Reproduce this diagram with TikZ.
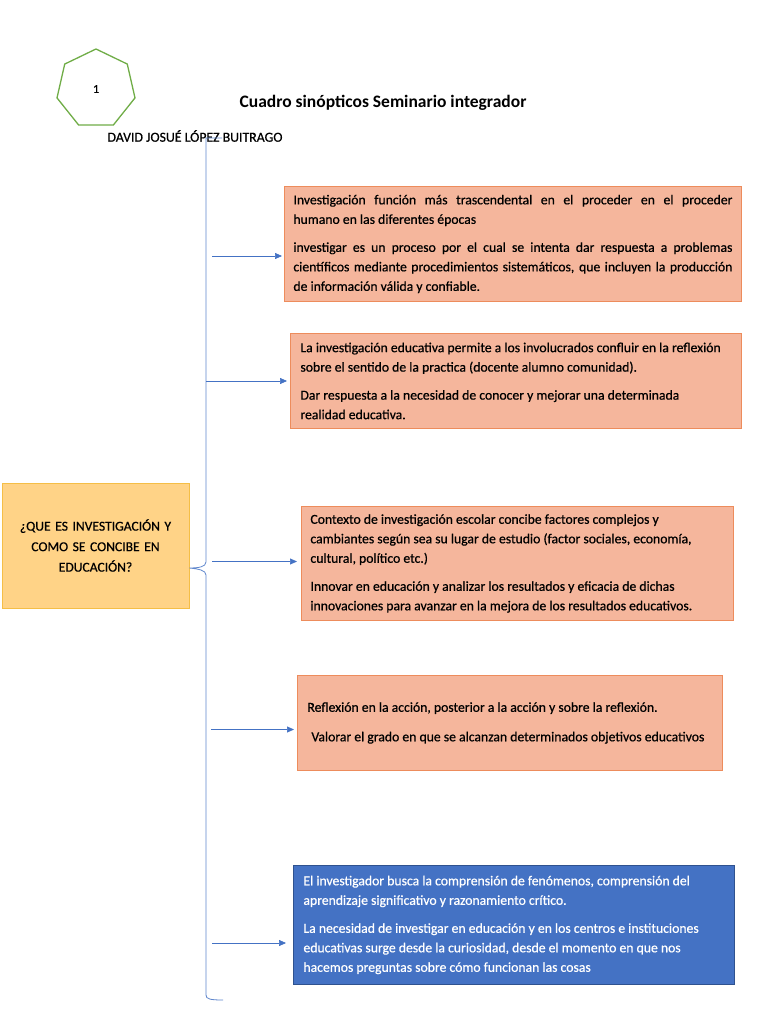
\documentclass[tikz,border=0pt]{standalone}
\usepackage{fontspec}
\setmainfont{Carlito}
\newfontfamily\gruesa{Carlito}[FakeBold=0.6]
\usetikzlibrary{shapes.geometric,arrows.meta}
\definecolor{salmon}{RGB}{245,182,156}
\definecolor{salmonline}{RGB}{237,140,92}
\definecolor{goldfill}{RGB}{255,211,135}
\definecolor{goldline}{RGB}{245,190,70}
\definecolor{officeblue}{RGB}{68,114,196}
\definecolor{blueline}{RGB}{47,82,143}
\definecolor{leaf}{RGB}{112,173,71}
\tikzset{
  ramabox/.style={draw=salmonline, fill=salmon, line width=0.9pt, anchor=north west,
    inner xsep=9pt, inner ysep=4pt, align=flush left, font=\gruesa\fontsize{13.7}{19.5}\selectfont},
  azulbox/.style={ramabox, draw=blueline, fill=officeblue, text=white},
  flecha/.style={officeblue, line width=0.7pt, shorten >=3pt, -{Triangle[length=7pt,width=6pt]}},
  llave/.style={officeblue!85, line width=0.8pt},
}
\begin{document}
\begin{tikzpicture}[x=1pt, y=-1pt]
  \fill[white] (0,0) rectangle (768,1024);
  \useasboundingbox (0,0) rectangle (768,1024);

  % encabezado
  \node[regular polygon, regular polygon sides=7, draw=leaf, line width=1.3pt,
        minimum size=80pt, inner sep=0pt, font=\gruesa\fontsize{12}{14}\selectfont] (num) at (96,89) {1};
  \node[font=\bfseries\fontsize{17.5}{20}\selectfont] (titulo) at (383,103) {Cuadro sinópticos Seminario integrador};
  \node[font=\gruesa\fontsize{13.8}{16}\selectfont] (autor) at (195,136) {DAVID JOSUÉ LÓPEZ BUITRAGO};

  % pregunta central
  \node[draw=goldline, fill=goldfill, line width=0.9pt, minimum width=187pt, minimum height=125pt,
        text width=170pt, align=center, font=\gruesa\fontsize{13.6}{20.5}\selectfont] (q) at (95.5,545.5)
        {¿QUE ES INVESTIGACIÓN Y\\COMO SE CONCIBE EN\\EDUCACIÓN?};

  % ramas
  \node[ramabox, align=justify, minimum width=457pt, minimum height=115pt, text width=439pt] (b1) at (284,186)
    {\setlength{\parskip}{8.5pt}\hyphenpenalty=10000 Investigación función más trascendental en el proceder en el proceder\linebreak humano en las diferentes épocas\par
     investigar es un proceso por el cual se intenta dar respuesta a problemas\linebreak científicos mediante procedimientos sistemáticos, que incluyen la producción\linebreak de información válida y confiable.};
  \node[ramabox, minimum width=451pt, minimum height=95pt, text width=431pt, inner xsep=10pt] (b2) at (290,333)
    {\setlength{\parskip}{8.5pt}La investigación educativa permite a los involucrados confluir en la reflexión\\sobre el sentido de la practica (docente alumno comunidad).\par
     Dar respuesta a la necesidad de conocer y mejorar una determinada\\realidad educativa.};
  \node[ramabox, minimum width=432pt, minimum height=114pt, text width=414pt, inner xsep=9pt] (b3) at (301,506)
    {\setlength{\parskip}{8.5pt}Contexto de investigación escolar concibe factores complejos y\\cambiantes según sea su lugar de estudio (factor sociales, economía,\\cultural, político etc.)\par
     Innovar en educación y analizar los resultados y eficacia de dichas\\innovaciones para avanzar en la mejora de los resultados educativos.};
  \node[ramabox, minimum width=425pt, minimum height=95pt, text width=405pt, inner xsep=10pt] (b4) at (297,675)
    {\setlength{\parskip}{10pt}Reflexión en la acción, posterior a la acción y sobre la reflexión.\par
     \hspace*{4pt}Valorar el grado en que se alcanzan determinados objetivos educativos};
  \node[azulbox, minimum width=441pt, minimum height=119pt, text width=421pt, inner xsep=10pt] (b5) at (293,865)
    {\setlength{\parskip}{8.5pt}El investigador busca la comprensión de fenómenos, comprensión del\\aprendizaje significativo y razonamiento crítico.\par
     La necesidad de investigar en educación y en los centros e instituciones\\educativas surge desde la curiosidad, desde el momento en que nos\\hacemos preguntas sobre cómo funcionan las cosas};

  % llave
  \coordinate (llaveTop) at (222,138);
  \coordinate (llaveBot) at (223,1000);
  \coordinate (pico) at ([yshift=-22.5pt]q.east);
  \draw[llave] (llaveTop) -- (206,138) -- (206,562)
    .. controls (206,567) and (198,568) .. (pico)
    .. controls (198,569) and (206,570) .. (206,575) -- (206,995)
    .. controls (206,999) and (210,1000) .. (llaveBot);

  % flechas
  \coordinate (a1) at (212,256);
  \coordinate (a2) at (206,381);
  \coordinate (a3) at (212,561.5);
  \coordinate (a4) at (211,729.5);
  \coordinate (a5) at (212,943);
  \draw[flecha, shorten >=2pt] (a1) -- (a1 -| b1.west);
  \draw[flecha] (a2) -- (a2 -| b2.west);
  \draw[flecha, shorten >=4pt] (a3) -- (a3 -| b3.west);
  \draw[flecha] (a4) -- (a4 -| b4.west);
  \draw[flecha, shorten >=7pt] (a5) -- (a5 -| b5.west);
\end{tikzpicture}
\end{document}
